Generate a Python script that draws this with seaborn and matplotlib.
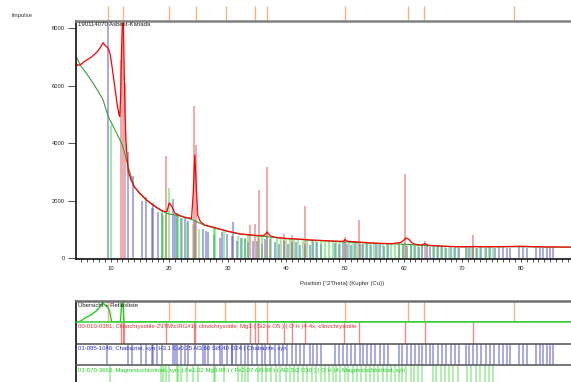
import numpy as np
import pandas as pd
import matplotlib.pyplot as plt
from matplotlib.ticker import MultipleLocator
import seaborn as sns

obs_x = [4.0, 4.4, 4.8, 5.2, 5.6, 6.0, 6.4, 6.8, 7.2, 7.6, 8.0, 8.4, 8.7, 9.0, 9.3, 9.6,
         9.9, 10.2, 10.5, 10.8, 11.1, 11.4, 11.55, 11.7, 11.85, 12.0, 12.15, 12.3, 12.45,
         12.6, 12.8, 13.0, 13.5, 14.0, 15.0, 16.0, 17.0, 18.0, 19.0, 19.6, 20.0, 20.4,
         21.0, 22.0, 23.0, 23.8, 24.1, 24.35, 24.6, 24.85, 25.3, 26.0, 28.0, 30.0, 32.0,
         35.0, 36.2, 36.7, 37.3, 38.0, 40.0, 42.0, 44.0, 46.0, 48.0, 49.7, 50.0, 50.4,
         52.0, 54.0, 56.0, 58.0, 59.5, 60.0, 60.4, 60.9, 61.4, 62.0, 63.0, 63.6, 64.2,
         66.0, 68.0, 70.0, 72.0, 74.0, 76.0, 78.0, 80.0, 82.0, 84.0, 86.0, 88.5]
obs_y = [6780, 6700, 6720, 6780, 6850, 6900, 6950, 7000, 7080, 7150, 7250, 7380, 7490, 7400, 7350, 7280,
         7100, 6700, 6250, 5800, 5350, 5000, 4920, 5600, 7200, 8300, 8300, 6600, 5000,
         4100, 3500, 3000, 2700, 2480, 2250, 2040, 1880, 1740, 1620, 1620, 1920, 1800,
         1550, 1460, 1400, 1380, 2300, 3580, 2500, 1500, 1270, 1150, 1040, 930, 840,
         780, 790, 900, 760, 720, 680, 660, 630, 610, 590, 580, 640, 580,
         560, 530, 510, 500, 540, 620, 700, 650, 530, 470, 450, 500, 440,
         420, 400, 390, 400, 390, 395, 400, 410, 395, 385, 385, 380]

# fitted background
bg_x = [4.0, 4.8, 6.0, 7.0, 8.0, 8.7, 9.5, 10.0, 11.0, 12.0, 13.0, 14.0, 15.0, 16.0, 17.0,
        18.0, 19.0, 20.0, 21.0, 22.0, 23.0, 24.0, 25.0, 26.0, 28.0, 30.0, 32.0, 35.0,
        38.0, 40.0, 44.0, 50.0, 55.0, 60.0, 65.0, 70.0, 80.0, 88.5]
bg_y = [7060, 6710, 6380, 6080, 5750, 5500, 4970, 4750, 4350, 3930, 3170, 2480, 2230, 2030, 1870,
        1730, 1610, 1530, 1500, 1450, 1390, 1330, 1230, 1140, 1030, 925, 835, 770,
        715, 675, 620, 560, 510, 480, 420, 390, 390, 375]

# 00-010-0381 Clinochrysotile
clino_pos = [11.8, 12.1, 12.4, 19.4, 24.3, 24.5, 33.8, 34.6, 35.25, 36.7, 39.6, 40.9,
             43.2, 49.9, 52.4, 60.3, 63.6, 71.8]
clino_int = [6900, 8300, 6100, 3550, 5290, 3930, 1150, 1180, 2370, 3180, 830, 800,
             1800, 730, 1320, 2920, 600, 800]

# 01-085-1046 Chabazite
chab_pos = [9.5, 13.0, 13.75, 15.3, 16.1, 17.1, 17.3, 18.0, 18.8,
            20.7, 21.0, 21.4, 22.0, 22.7, 23.2, 24.4,
            25.8, 26.2, 26.6, 27.7, 28.65, 29.0, 29.8, 30.7, 30.8, 31.5,
            32.3, 33.0, 33.5, 34.2, 35.0, 35.8, 36.4, 37.2, 38.0, 38.7,
            39.5, 40.2, 41.0, 41.6, 42.3, 43.1, 44.0, 44.6, 45.2, 45.9,
            48.3, 48.9, 49.6, 50.4, 51.0, 51.7, 52.5, 53.1, 53.8, 54.5,
            55.2, 56.0, 56.6, 57.3, 59.2, 59.8, 60.5, 61.2, 61.9, 62.6,
            63.2, 63.9, 64.5, 65.1, 65.9, 66.6, 67.3, 68.0, 68.8, 69.4,
            70.6, 71.2, 71.9, 72.5, 73.2, 74.0, 74.7, 75.5, 76.2, 76.9,
            77.6, 78.2, 79.6, 80.3, 81.0, 82.6, 83.2, 83.8, 84.4, 85.0,
            85.5]
chab_int = [8300, 3700, 2860, 2000, 2130, 1750, 1900, 1600, 1550,
            2050, 1500, 1550, 1400, 1400, 1300, 1300,
            1000, 950, 900, 800, 700, 900, 850, 750, 1260, 600,
            700, 650, 550, 600, 600, 500, 650, 650, 550, 500,
            600, 500, 550, 550, 450, 500, 450, 600, 550, 500,
            520, 480, 560, 500, 450, 540, 480, 500, 520, 450,
            500, 480, 430, 470, 450, 470, 420, 460, 430, 400,
            450, 420, 380, 400, 410, 380, 360, 400, 380, 350,
            390, 370, 380, 340, 390, 360, 380, 350, 370, 390,
            360, 340, 380, 370, 350, 380, 360, 340, 380, 370,
            390]

# 01-070-3663 Magnesiochloritoid
mgcl_pos = [10.0, 18.7, 19.0, 19.4, 20.0, 21.3, 21.5, 22.1, 23.1, 24.1,
            25.0, 27.6, 27.8, 29.4, 31.8, 32.4, 32.9, 33.5, 35.1, 35.8,
            36.6, 37.4, 38.3, 39.0, 39.9, 40.6, 41.3, 42.0, 42.9, 43.5,
            44.3, 45.0, 45.9, 46.6, 47.2, 47.9, 48.5, 49.2, 50.0, 50.6,
            51.3, 52.0, 52.8, 53.6, 54.2, 55.0, 55.7, 56.5, 57.1, 57.9,
            58.6, 59.2, 59.8, 60.4, 61.2, 61.8, 62.5, 63.1, 65.0, 65.6,
            66.3, 67.0, 67.8, 68.5, 69.2, 70.8, 71.5, 72.3, 73.0, 73.8,
            74.5, 75.2]
mgcl_int = [4630, 1640, 1500, 1550, 2420, 1500, 1450, 1400, 1250, 1200,
            1000, 1100, 1050, 950, 750, 700, 700, 800, 800, 750,
            970, 700, 680, 650, 700, 660, 620, 640, 600, 650,
            620, 600, 580, 560, 600, 540, 580, 560, 620, 540,
            520, 560, 500, 540, 480, 520, 500, 480, 470, 500,
            460, 520, 480, 500, 470, 440, 460, 430, 400, 380,
            390, 370, 380, 360, 370, 360, 380, 350, 370, 360,
            370, 350]

# peak list
peak_pos = [9.6, 12.1, 20.0, 24.5, 29.6, 34.6, 36.7, 50.0, 60.7, 63.5, 78.75]

y_ticks = [0, 2000, 4000, 6000, 8000]
x_ticks = [10, 20, 30, 40, 50, 60, 70, 80]

sns.set_theme(style="white")
plt.rcParams['font.family'] = ['Liberation Sans', 'DejaVu Sans']

W, H = 571, 382
XLIM = (4.08, 88.55)


def box(x0, y0, x1, y1):
    return [x0 / W, 1 - y1 / H, (x1 - x0) / W, (y1 - y0) / H]


fig = plt.figure(figsize=(W / 100, H / 100), dpi=100)

# ---- main pattern
ax = fig.add_axes(box(76, 20.7, 571, 258.5))
ax.vlines(chab_pos, 0, chab_int, colors="#3a3ac0", alpha=0.55, lw=1.1)
ax.vlines(mgcl_pos, 0, mgcl_int, colors="#33dd33", alpha=0.6, lw=1.1)
ax.vlines(clino_pos, 0, clino_int, colors="#e05a5a", alpha=0.6, lw=1.2)
sns.lineplot(x=bg_x, y=bg_y, color="#3c9c3c", lw=0.8, ax=ax)
sns.lineplot(x=obs_x, y=obs_y, color="#ff0000", lw=0.9, ax=ax)
ax.vlines(peak_pos, 1.0, 1.06, transform=ax.get_xaxis_transform(),
          colors="#f0b878", lw=1.0, clip_on=False)

ax.set_xlim(*XLIM)
ax.set_ylim(-17, 8254)
ax.set_xticks(x_ticks)
ax.xaxis.set_minor_locator(MultipleLocator(1))
ax.set_yticks(y_ticks)
ax.tick_params(axis="y", direction="out", length=5.8, width=0.6, pad=2,
               labelsize=4.2, color="#333333", left=True)
ax.tick_params(axis="x", which="both", direction="out", length=2.2, width=0.6,
               pad=3, labelsize=4.2, color="#333333", bottom=True)
ax.set_xlabel("")
ax.set_ylabel("")
for s in ["left", "bottom"]:
    ax.spines[s].set_color("#111111")
    ax.spines[s].set_linewidth(1.2)
ax.spines["top"].set_color("#808080")
ax.spines["top"].set_linewidth(1.8)
ax.spines["right"].set_visible(False)

ax.text(0.004, 0.993, "190114070 Asbest-Kanada", transform=ax.transAxes,
        ha="left", va="top", fontsize=4.3, color="#222222")
fig.text(12 / W, 1 - 16 / H, "Impulse", ha="left", va="center",
         fontsize=4.3, color="#333333")
fig.text(342 / W, 1 - 283 / H, "Position [°2Theta] (Kupfer (Cu))",
         ha="center", va="center", fontsize=4.3, color="#333333")

# ---- overview + reference rows
rows = [(301, 322), (322, 344), (344, 365), (365, 387)]
row_axes = []
for y0, y1 in rows:
    r = fig.add_axes(box(75.7, y0, 571, y1))
    r.set_xlim(*XLIM)
    r.set_ylim(0, 1)
    r.set_xticks([])
    r.set_yticks([])
    r.spines["right"].set_visible(False)
    r.spines["bottom"].set_visible(False)
    r.spines["left"].set_color("#111111")
    r.spines["left"].set_linewidth(1.2)
    r.patch.set_alpha(0)
    row_axes.append(r)

r1, r2, r3, r4 = row_axes
r1.spines["top"].set_color("#707070")
r1.spines["top"].set_linewidth(1.8)
r2.spines["top"].set_color("#33cc33")
r2.spines["top"].set_linewidth(1.1)
r3.spines["top"].set_color("#505050")
r3.spines["top"].set_linewidth(1.1)
r4.spines["top"].set_color("#606060")
r4.spines["top"].set_linewidth(1.2)

lo, hi = 6700, 7550
r1.set_ylim(lo, hi)
r1.vlines(peak_pos, lo, hi, colors="#f0b878", lw=1.0)
sns.lineplot(x=obs_x, y=np.clip(obs_y, lo, hi), color="#22cc22", lw=1.0, ax=r1)
r1.set_xlabel("")
r1.set_ylabel("")

r2.vlines(clino_pos, 0, 1, colors="#e05a5a", alpha=0.7, lw=1.0)
r3.vlines(chab_pos, 0, 1, colors="#3a3ac0", alpha=0.55, lw=1.1)
r4.vlines(mgcl_pos, 0, 1, colors="#33dd33", alpha=0.5, lw=1.1)

row_texts = [
    ("Übersicht + Reflexliste", "#222222"),
    ("00-010-0381; Clinochrysotile-2\\ITM\\c\\RG#1\\; clinochrysotile; "
     "Mg3 ( Si2-x O5 ) ( O H )4-4x; clinochrysotile", "#e03030"),
    ("01-085-1046; Chabazite, syn; H3.1 Ca0.25 Al3.60 Si8.40 O24 | Chabazite, syn",
     "#3030c0"),
    ("01-070-3663; Magnesiochloritoid, syn; ( Fe1.02 Mg0.98 ) ( Fe2.07 Al0.98 ) "
     "( Al3 Si2 O10 ) ( O H )4; Magnesiochloritoid, syn", "#22cc22"),
]
for r, (txt, col) in zip(row_axes, row_texts):
    r.text(0.005, 0.9 if r is not r4 else 0.88, txt, transform=r.transAxes,
           ha="left", va="top", fontsize=4.3, color=col)

fig.savefig("out.png", dpi=100)
